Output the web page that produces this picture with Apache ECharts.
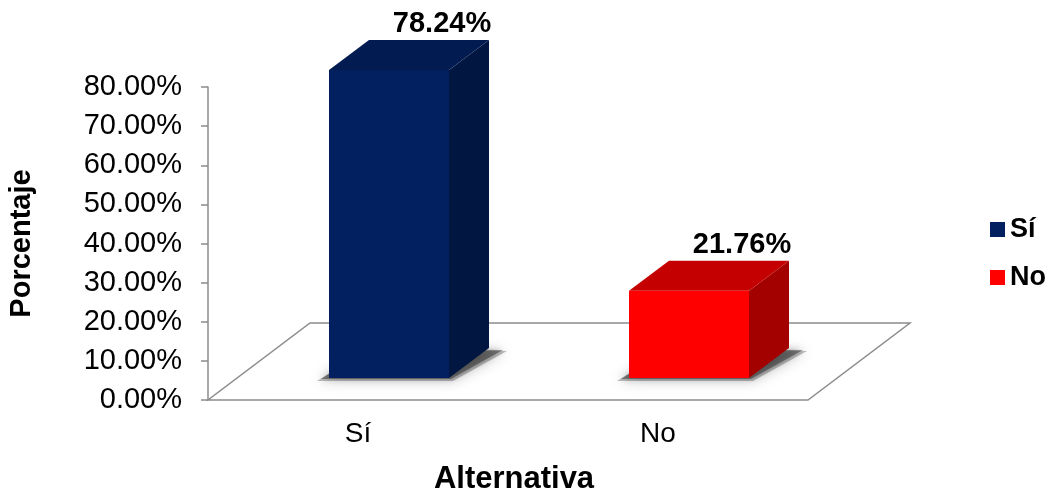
<!DOCTYPE html>
<html>
<head>
<meta charset="utf-8">
<script src="https://cdn.jsdelivr.net/npm/echarts@6/dist/echarts.min.js"></script>
<style>
html,body{margin:0;padding:0;background:#fff;}
#chart{width:1058px;height:490px;}
</style>
</head>
<body>
<div id="chart"></div>
<script>
// ---- data ----
var categories = ['Sí', 'No'];
var seriesNames = ['Sí', 'No'];
var values = [78.24, 21.76];
var valueLabels = ['78.24%', '21.76%'];
var yMin = 0, yMax = 80, yStep = 10;

// ---- style constants ----
var FONT = '"Liberation Sans", Arial, sans-serif';
var faceColors = [
  {front: '#022060', top: '#021c52', side: '#011640'},
  {front: '#ff0000', top: '#c40000', side: '#a30000'}
];
var BAR_W = 120, DX = 40, DY = -30, OFF_X = 31, OFF_Y = -22;
var FLOOR_DX = 102, FLOOR_DY = -77;

function renderBar(params, api) {
  var cat = api.value(0), v = api.value(1);
  var base = api.coord([cat, 0]);
  var top = api.coord([cat, v]);
  var c = faceColors[cat];
  var fx = base[0] + OFF_X, by = base[1] + OFF_Y, ty = top[1] + OFF_Y - 2;
  var x0 = fx - BAR_W / 2, x1 = fx + BAR_W / 2;
  return {
    type: 'group',
    children: [
      {type: 'polygon', shape: {points: [[x0 - 12, by + 3], [x1 + 4, by + 3], [x1 + DX + 18, by + DY + 3], [x0 + DX, by + DY]]},
        style: {fill: 'rgba(0,0,0,0.25)', shadowBlur: 14, shadowColor: 'rgba(0,0,0,0.8)'}},
      {type: 'polygon', shape: {points: [[x0 - 8, by + 1], [x1 + 2, by + 1], [x1 + DX + 14, by + DY + 2], [x0 + DX, by + DY]]},
        style: {fill: 'rgba(0,0,0,0.35)', shadowBlur: 6, shadowColor: 'rgba(0,0,0,0.6)'}},
      {type: 'polygon', shape: {points: [[x1, ty], [x1 + DX, ty + DY], [x1 + DX, by + DY], [x1, by]]},
        style: {fill: c.side}},
      {type: 'polygon', shape: {points: [[x0, ty], [x1, ty], [x1 + DX, ty + DY], [x0 + DX, ty + DY]]},
        style: {fill: c.top}},
      {type: 'rect', shape: {x: x0, y: ty, width: BAR_W, height: by - ty},
        style: {fill: c.front}},
      {type: 'text', x: fx + 53, y: ty + DY - 16,
        style: {text: valueLabels[cat], fill: '#000', font: 'bold 29px ' + FONT, align: 'center', verticalAlign: 'middle'}}
    ]
  };
}

function renderFloor(params, api) {
  var cs = params.coordSys;
  var xl = cs.x, xr = cs.x + cs.width, yb = cs.y + cs.height;
  return {
    type: 'polygon',
    shape: {points: [[xl, yb], [xr, yb], [xr + FLOOR_DX, yb + FLOOR_DY], [xl + FLOOR_DX, yb + FLOOR_DY]]},
    style: {fill: '#fff', stroke: '#8c8c8c', lineWidth: 1.5}
  };
}

var chart = echarts.init(document.getElementById('chart'));
var series = [{
  type: 'custom', name: 'floor', renderItem: renderFloor, data: [[0, 0]], z: 1, silent: true
}];
seriesNames.forEach(function (n, i) {
  series.push({
    type: 'custom', name: n, renderItem: renderBar,
    data: [[i, values[i]]],
    itemStyle: {color: faceColors[i].front},
    z: 2 + (i === 0 ? 1 : 0)
  });
});

chart.setOption({
  animation: false,
  color: [faceColors[0].front, faceColors[1].front],
  grid: {left: 208, width: 600, top: 87, height: 313, containLabel: false, outerBoundsMode: 'none'},
  legend: {
    data: seriesNames, orient: 'vertical', left: 985, top: 211,
    icon: 'rect', itemWidth: 15, itemHeight: 15, itemGap: 21,
    textStyle: {fontSize: 27, fontWeight: 'bold', fontFamily: FONT, color: '#000'}
  },
  xAxis: {
    type: 'category', data: categories,
    name: 'Alternativa', nameLocation: 'middle', nameGap: 64,
    nameTextStyle: {fontSize: 31, fontWeight: 'bold', fontFamily: FONT, color: '#000', padding: [0, 0, 0, 12]},
    axisLine: {show: false}, axisTick: {show: false},
    axisLabel: {fontSize: 28, fontFamily: FONT, color: '#000', margin: 20}
  },
  yAxis: {
    type: 'value', min: yMin, max: yMax, interval: yStep,
    name: 'Porcentaje', nameLocation: 'middle', nameGap: 172, nameRotate: 90,
    nameTextStyle: {fontSize: 29, fontWeight: 'bold', fontFamily: FONT, color: '#000'},
    axisLine: {show: true, lineStyle: {color: '#8c8c8c', width: 1.5}},
    axisTick: {show: true, length: 7, lineStyle: {color: '#8c8c8c', width: 1.5}},
    splitLine: {show: false},
    axisLabel: {fontSize: 29, fontFamily: FONT, color: '#000', margin: 26,
      formatter: function (v) { return v.toFixed(2) + '%'; }}
  },
  series: series
});
</script>
</body>
</html>
